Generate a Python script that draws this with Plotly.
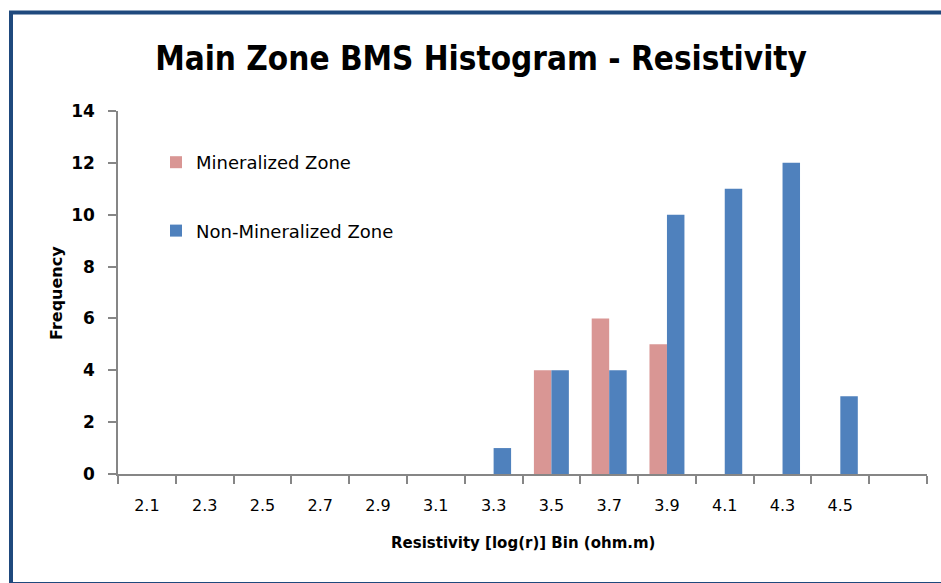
import plotly.graph_objects as go

# ---- data ----
bins = ["2.1", "2.3", "2.5", "2.7", "2.9", "3.1", "3.3", "3.5", "3.7", "3.9", "4.1", "4.3", "4.5", " "]
mineralized = [None, None, None, None, None, None, None, 4, 6, 5, None, None, None, None]
non_mineralized = [None, None, None, None, None, None, 1, 4, 4, 10, 11, 12, 3, None]
y_ticks = [0, 2, 4, 6, 8, 10, 12, 14]

PINK = "#D99694"
BLUE = "#4F81BD"
AXIS = "#868686"

fig = go.Figure()
fig.add_trace(go.Bar(x=bins, y=mineralized, name="Mineralized Zone",
                     marker=dict(color=PINK, line=dict(width=0)), legendgroup="a"))
fig.add_trace(go.Bar(x=bins, y=non_mineralized, name="Non-Mineralized Zone",
                     marker=dict(color=BLUE, line=dict(width=0)), legendgroup="b"))

L, R, T, B = 118, 14, 111, 109
W, H = 941, 583
pw = W - L - R
ph = H - T - B

def px(x):
    return (x - L) / pw

def py(y):
    return (H - B - y) / ph

fig.update_layout(
    width=W, height=H,
    margin=dict(l=L, r=R, t=T, b=B),
    paper_bgcolor="white", plot_bgcolor="white",
    barmode="group", bargap=0.395, bargroupgap=0,
    title=dict(text="<b>Main Zone BMS Histogram - Resistivity</b>",
               x=481 / W, xanchor="center", y=1 - 58 / H, yanchor="middle",
               font=dict(family="Liberation Sans Narrow, DejaVu Sans Condensed, Arial Narrow, sans-serif",
                         size=33, color="black")),
    legend=dict(x=px(156), y=py(144), xanchor="left", yanchor="top",
                bgcolor="rgba(0,0,0,0)", traceorder="grouped", tracegroupgap=42,
                font=dict(family="DejaVu Sans", size=18, color="black")),
    showlegend=True,
    xaxis=dict(type="category", categoryorder="array", categoryarray=bins,
               range=[-0.5, len(bins) - 0.5], tickson="boundaries",
               ticks="outside", ticklen=8, tickcolor=AXIS, tickwidth=1.5,
               showline=True, linecolor=AXIS, linewidth=1.5, showgrid=False,
               tickfont=dict(family="DejaVu Sans", size=16, color="black"),
               ticklabelstandoff=16, fixedrange=True),
    yaxis=dict(range=[0, 14], tickvals=y_ticks,
               ticks="outside", ticklen=8, tickcolor=AXIS, tickwidth=1.5,
               showline=True, linecolor=AXIS, linewidth=1.5, showgrid=False,
               zeroline=False,
               tickfont=dict(family="DejaVu Sans", size=17, color="black", weight="bold"),
               ticklabelstandoff=10, fixedrange=True),
    annotations=[
        dict(text="<b>Frequency</b>", xref="paper", yref="paper",
             x=px(56), y=py(293), xanchor="center", yanchor="middle",
             textangle=-90, showarrow=False,
             font=dict(family="DejaVu Sans", size=16, color="black")),
        dict(text="<b>Resistivity [log(r)] Bin (ohm.m)</b>", xref="paper", yref="paper",
             x=px(523), y=py(543), xanchor="center", yanchor="middle",
             showarrow=False,
             font=dict(family="DejaVu Sans", size=15, color="black")),
    ],
    shapes=[
        dict(type="rect", xref="paper", yref="paper",
             x0=px(11), x1=px(960), y0=py(584), y1=py(12.5),
             line=dict(color="#1F497D", width=4), fillcolor="rgba(0,0,0,0)",
             layer="above"),
    ],
)

fig.write_html("out.html", config={"displayModeBar": False},
               post_script="document.body.style.margin='0';document.body.style.overflow='hidden';")
